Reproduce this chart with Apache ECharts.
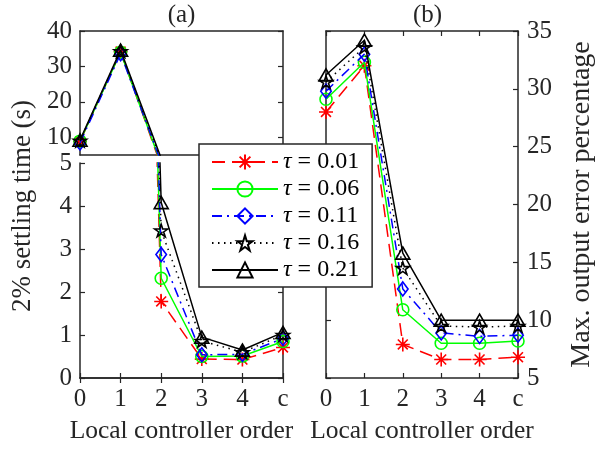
<!DOCTYPE html>
<html><head><meta charset="utf-8">
<script src="https://cdn.jsdelivr.net/npm/echarts@6/dist/echarts.min.js"></script>
<style>html,body{margin:0;padding:0;background:#fff}#c{width:597px;height:449px}</style>
</head><body><div id="c"></div>
<script>
const categories = ['0', '1', '2', '3', '4', 'c'];
const tauLabels = ['0.01', '0.06', '0.11', '0.16', '0.21'];
// Panel (a): 2% settling time (s)
const settle001 = [8.8, 34.2, 1.78, 0.44, 0.43, 0.71];
const settle006 = [8.9, 34.0, 2.32, 0.50, 0.51, 0.85];
const settle011 = [8.4, 33.6, 2.87, 0.54, 0.55, 0.92];
const settle016 = [9.0, 34.3, 3.43, 0.86, 0.60, 1.00];
const settle021 = [9.2, 34.6, 4.08, 0.95, 0.65, 1.06];
// Panel (b): max output error percentage
const err001 = [28.0, 32.0, 7.9, 6.6, 6.6, 6.8];
const err006 = [29.1, 32.3, 10.9, 8.0, 8.0, 8.2];
const err011 = [29.8, 33.0, 12.7, 8.9, 8.6, 8.7];
const err016 = [30.6, 33.6, 14.5, 9.5, 9.4, 9.5];
const err021 = [31.2, 34.2, 15.8, 10.0, 10.0, 10.0];
const aTopTicks = [10, 20, 30, 40];

const settleSets = [settle001, settle006, settle011, settle016, settle021];
const errSets = [err001, err006, err011, err016, err021];

const FONT = 'Liberation Serif';
const AX = '#262626';
const colors = ['#ff0000', '#00ff00', '#0000ff', '#000000', '#000000'];
const dashes = [[13, 7], 'solid', [10, 5, 2, 5], [1.5, 4.5], 'solid'];
const symbols = [
  'path://M0,-10L0,10M-10,0L10,0M-7.07,-7.07L7.07,7.07M-7.07,7.07L7.07,-7.07',
  'path://M10,0A10,10,0,1,1,-10,0A10,10,0,1,1,10,0Z',
  'path://M0,-10L7.5,0L0,10L-7.5,0Z',
  'path://M0,-10L2.245,-3.09L9.511,-3.09L3.633,1.18L5.878,8.09L0,3.82L-5.878,8.09L-3.633,1.18L-9.511,-3.09L-2.245,-3.09Z',
  'path://M0,-10L8.66,5L-8.66,5Z'
];
const symSizes = [14, 12, 14, 13, 14];
const names = tauLabels.map(t => 'τ = ' + t);

const G = [
  {left: 80, top: 31, width: 203, height: 124},
  {left: 80, top: 163, width: 203, height: 215},
  {left: 326, top: 31, width: 203, height: 347}
];

const lineAx = {show: true, lineStyle: {color: AX, width: 1.5}};
const tickIn = (show) => ({show: show, inside: true, length: 5, lineStyle: {color: AX, width: 1.2}});
const lbl = {color: AX, fontFamily: FONT, fontSize: 25};

const xAxis = [];
const yAxis = [];
xAxis.push({type: 'category', gridIndex: 0, data: categories, boundaryGap: false, position: 'bottom',
  axisLine: lineAx, axisTick: tickIn(false), axisLabel: {show: false}, splitLine: {show: false}});
xAxis.push({type: 'category', gridIndex: 0, data: categories, boundaryGap: false, position: 'top',
  axisLine: lineAx, axisTick: tickIn(false), axisLabel: {show: false}, splitLine: {show: false}});
xAxis.push({type: 'category', gridIndex: 1, data: categories, boundaryGap: false, position: 'bottom',
  axisLine: lineAx, axisTick: tickIn(true), axisLabel: Object.assign({margin: 9}, lbl), splitLine: {show: false},
  name: 'Local controller order', nameLocation: 'middle', nameGap: 40,
  nameTextStyle: {color: AX, fontFamily: FONT, fontSize: 25.5}});
xAxis.push({type: 'category', gridIndex: 1, data: categories, boundaryGap: false, position: 'top',
  axisLine: lineAx, axisTick: tickIn(true), axisLabel: {show: false}, splitLine: {show: false}});
xAxis.push({type: 'category', gridIndex: 2, data: categories, boundaryGap: false, position: 'bottom',
  axisLine: lineAx, axisTick: tickIn(true), axisLabel: Object.assign({margin: 9}, lbl), splitLine: {show: false},
  name: 'Local controller order', nameLocation: 'middle', nameGap: 40,
  nameTextStyle: {color: AX, fontFamily: FONT, fontSize: 25.5}});
xAxis.push({type: 'category', gridIndex: 2, data: categories, boundaryGap: false, position: 'top',
  axisLine: lineAx, axisTick: tickIn(true), axisLabel: {show: false}, splitLine: {show: false}});

yAxis.push({type: 'value', gridIndex: 0, min: 5, max: 40, position: 'left',
  axisLine: lineAx, axisTick: Object.assign(tickIn(true), {customValues: aTopTicks}),
  axisLabel: Object.assign({margin: 8, customValues: aTopTicks}, lbl), splitLine: {show: false}});
yAxis.push({type: 'value', gridIndex: 0, min: 5, max: 40, position: 'right',
  axisLine: lineAx, axisTick: Object.assign(tickIn(true), {customValues: aTopTicks}),
  axisLabel: {show: false}, splitLine: {show: false}});
yAxis.push({type: 'value', gridIndex: 1, min: 0, max: 5, interval: 1, position: 'left',
  axisLine: lineAx, axisTick: tickIn(true), axisLabel: Object.assign({margin: 8}, lbl), splitLine: {show: false}});
yAxis.push({type: 'value', gridIndex: 1, min: 0, max: 5, interval: 1, position: 'right',
  axisLine: lineAx, axisTick: tickIn(true), axisLabel: {show: false}, splitLine: {show: false}});
yAxis.push({type: 'value', gridIndex: 2, min: 5, max: 35, interval: 5, position: 'right',
  axisLine: lineAx, axisTick: tickIn(true), axisLabel: Object.assign({margin: 9}, lbl), splitLine: {show: false},
  name: 'Max. output error percentage', nameLocation: 'middle', nameGap: 50, nameRotate: 90,
  nameTextStyle: {color: AX, fontFamily: FONT, fontSize: 28}});
yAxis.push({type: 'value', gridIndex: 2, min: 5, max: 35, interval: 5, position: 'left',
  axisLine: lineAx, axisTick: tickIn(true), axisLabel: {show: false}, splitLine: {show: false}});

const series = [];
const panels = [
  {sets: settleSets, xi: 0, yi: 0},
  {sets: settleSets, xi: 2, yi: 2},
  {sets: errSets, xi: 4, yi: 4}
];
panels.forEach(p => {
  p.sets.forEach((vals, k) => {
    series.push({
      type: 'line', name: names[k], data: vals, xAxisIndex: p.xi, yAxisIndex: p.yi,
      clip: true, color: colors[k],
      symbol: symbols[k], symbolSize: symSizes[k], symbolKeepAspect: true, showAllSymbol: true,
      lineStyle: {color: colors[k], width: 1.5, type: dashes[k]},
      itemStyle: {color: 'rgba(255,255,255,0)', borderColor: colors[k], borderWidth: 1.6},
      emphasis: {disabled: true}, animation: false, z: 2 + k
    });
  });
});

const option = {
  animation: false,
  backgroundColor: '#fff',
  grid: G,
  xAxis: xAxis,
  yAxis: yAxis,
  series: series,
  legend: {
    orient: 'vertical', left: 199, top: 144, z: 30,
    data: names, selectedMode: false,
    itemWidth: 66, itemHeight: 19, itemGap: 3,
    padding: [6, 13, 5, 12],
    borderColor: AX, borderWidth: 1.5, backgroundColor: '#fff',
    formatter: n => n.replace('τ', '{i|τ}'),
    textStyle: {fontFamily: FONT, fontSize: 24, color: '#000', lineHeight: 19,
      rich: {i: {fontStyle: 'italic', fontFamily: FONT, fontSize: 24, color: '#000', lineHeight: 19}}}
  },
  graphic: [
    {type: 'text', x: 181.5, y: 15, style: {text: '(a)', fontFamily: FONT, fontSize: 25, fill: AX, align: 'center', verticalAlign: 'middle'}},
    {type: 'text', x: 427.5, y: 15, style: {text: '(b)', fontFamily: FONT, fontSize: 25, fill: AX, align: 'center', verticalAlign: 'middle'}},
    {type: 'text', x: 23, y: 206, rotation: Math.PI / 2, style: {text: '2% settling time (s)', fontFamily: FONT, fontSize: 27, fill: AX, align: 'center', verticalAlign: 'middle'}}
  ]
};
const chart = echarts.init(document.getElementById('c'), null, {renderer: 'canvas'});
chart.setOption(option);
</script></body></html>
